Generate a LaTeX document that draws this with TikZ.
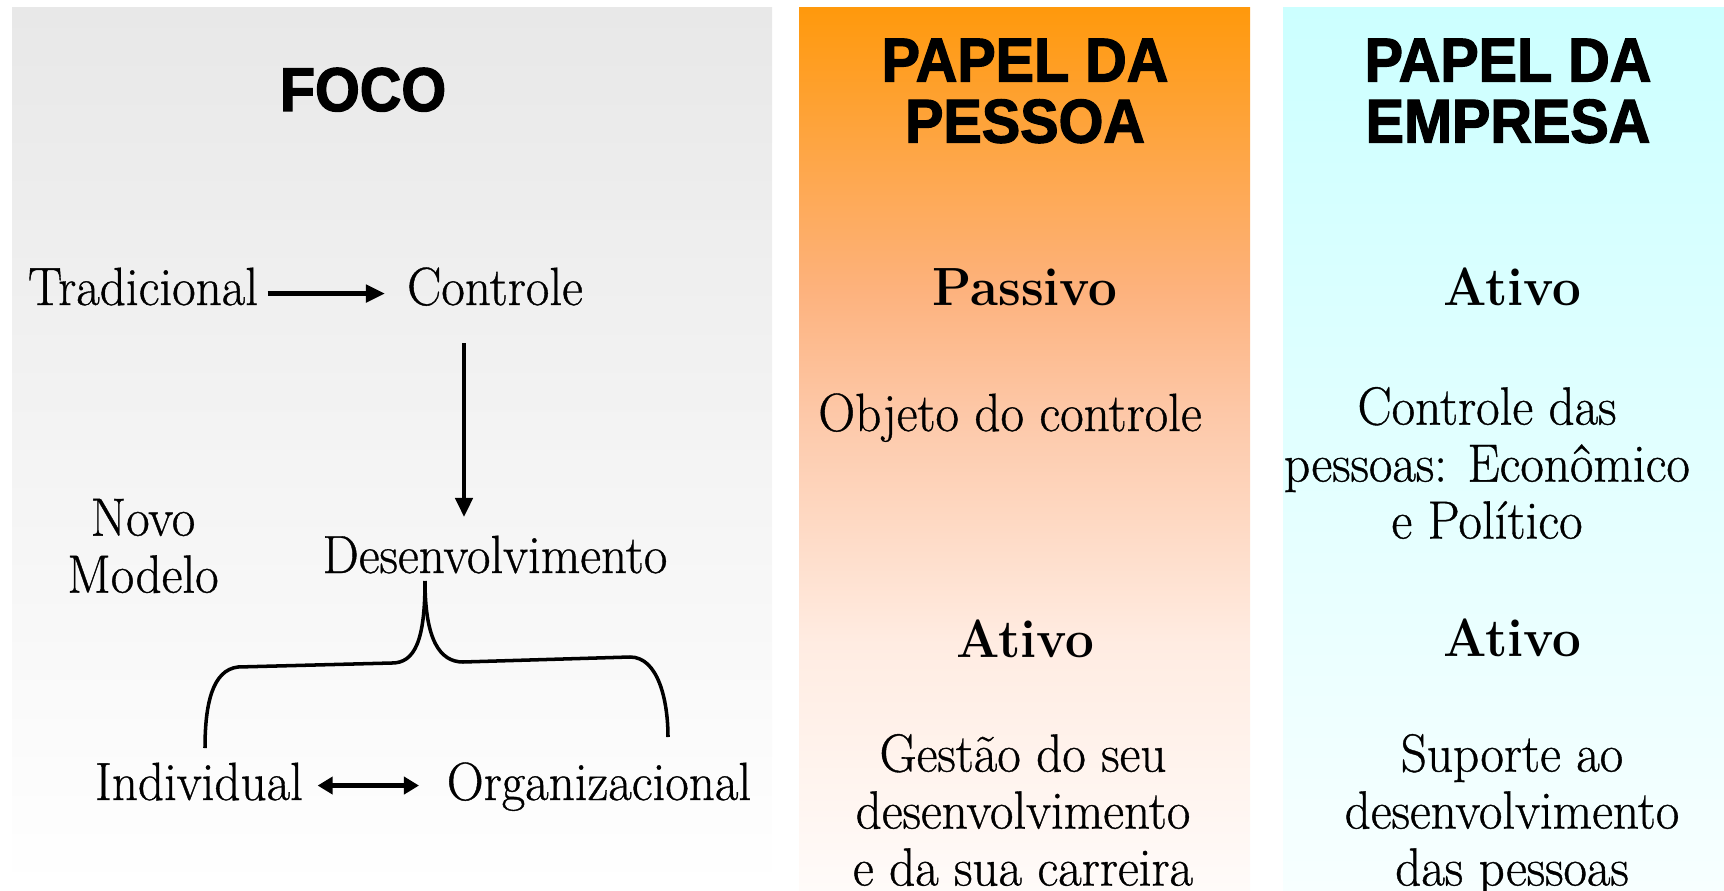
\documentclass[tikz,border=0pt]{standalone}
\usepackage{fontspec}
\setmainfont{Latin Modern Roman}[FakeStretch=0.95, UprightFeatures={FakeBold=0.7}]
\newfontfamily\hfont{Liberation Sans}[FakeStretch=0.93, BoldFeatures={FakeBold=2}]
\usetikzlibrary{arrows.meta,calc}
\definecolor{gtop}{HTML}{E8E8E8}
\definecolor{gmid}{HTML}{F1F1F1}
\definecolor{gbot}{HTML}{FFFFFF}
\definecolor{ctop}{HTML}{CCFFFF}
\definecolor{cmid}{HTML}{DEFFFF}
\definecolor{cbot}{HTML}{F7FFFF}
\definecolor{o0}{HTML}{FFFBF9}
\definecolor{o1}{HTML}{FFECE2}
\definecolor{o2}{HTML}{FDC8A8}
\definecolor{o3}{HTML}{FDB27D}
\definecolor{o4}{HTML}{FF990C}
\pgfdeclareverticalshading{orangeshade}{100bp}{
  color(0bp)=(o0); color(25bp)=(o0); color(39bp)=(o1); color(52bp)=(o2);
  color(59bp)=(o3); color(75bp)=(o4); color(100bp)=(o4)}
\tikzset{
  head/.style={inner sep=0pt, align=center, font=\hfont\bfseries\fontsize{17.6}{17.4}\selectfont},
  txt/.style={inner sep=0pt, align=center, font=\fontsize{15.3}{16.2}\selectfont},
  btxt/.style={inner sep=0pt, align=center, font=\bfseries\fontsize{15.3}{16.2}\selectfont},
  conn/.style={line width=1.3pt, -{Triangle[length=0.19cm,width=0.17cm]}},
  dconn/.style={line width=1.5pt, {Triangle[length=0.15cm,width=0.17cm]}-{Triangle[length=0.15cm,width=0.17cm]}},
  bracestyle/.style={line width=1pt}
}
\begin{document}
\begin{tikzpicture}[x=0.01cm,y=-0.01cm]
\useasboundingbox (0,0) rectangle (1724,891);
% panels
\path[top color=gtop, middle color=gmid, bottom color=gbot] (12,8) rectangle (772,891);
\path[shading=orangeshade] (799,8) rectangle (1250,891);
\path[top color=ctop, middle color=cmid, bottom color=cbot] (1283,8) rectangle (1724,891);
% headings
\node[head, anchor=base] (foco) at (363,111) {FOCO};
\node[head] (pessoa) at (1025,91) {PAPEL DA\\PESSOA};
\node[head] (empresa) at (1508,91) {PAPEL DA\\EMPRESA};
% left column
\node[txt, anchor=base] (trad) at (143,305) {Tradicional};
\node[txt, anchor=base] (ctrl) at (495,305) {Controle};
\node[txt] (novo) at (143,546) {Novo\\Modelo};
\node[txt, anchor=base] (dev) at (495,573) {Desenvolvimento};
\node[txt, anchor=base] (ind) at (199,800) {Individual};
\node[txt, anchor=base] (org) at (599,800) {Organizacional};
\draw[conn] ([yshift=-0.07cm]trad.east) ++(9,0) coordinate (t1) -- (t1 -| 385,0);
\draw[conn] ($(ctrl.base)+(-31,38)$) -- ($(dev.base)+(-31,-56)$);
\draw[dconn] ([yshift=-0.04cm]ind.east) ++(14,0) coordinate (i1) -- (i1 -| 419,0);
% brace
\coordinate (cusp) at ($(dev.base)+(-70,8)$);
\draw[bracestyle] (cusp) .. controls (425,640) and (415,663) .. (392,663)
  -- (238,667) .. controls (212,670) and (205,705) .. (205,748);
\draw[bracestyle] (cusp) .. controls (425,640) and (440,662) .. (463,662)
  -- (630,657) .. controls (658,657) and (668,700) .. (668,737);
% middle column
\node[btxt, anchor=base] (passivo) at (1025,305) {Passivo};
\node[txt, anchor=base] (objeto) at (1010,431) {Objeto do controle};
\node[btxt, anchor=base] (ativo1) at (1025,657) {Ativo};
\node[txt] (gestao) at (1023,810) {Gestão do seu\\desenvolvimento\\e da sua carreira};
% right column
\node[btxt, anchor=base] (ativo2) at (1512,305) {Ativo};
\node[txt] (controle) at (1487,463) {Controle das\\pessoas: Econômico\\e Político};
\node[btxt, anchor=base] (ativo3) at (1512,656) {Ativo};
\node[txt] (suporte) at (1512,815) {Suporte ao\\desenvolvimento\\das pessoas};
\end{tikzpicture}
\end{document}
